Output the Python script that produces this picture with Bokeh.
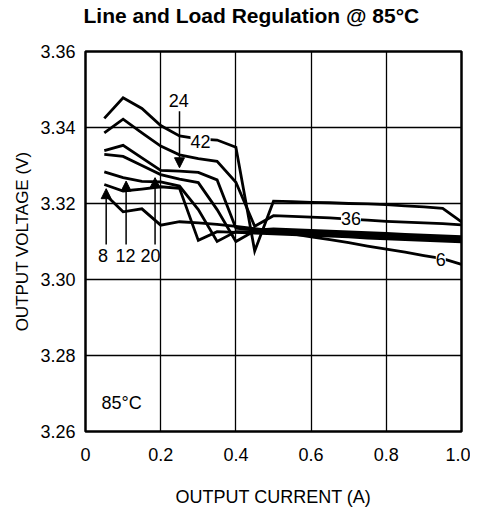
from bokeh.plotting import figure
from bokeh.models import FixedTicker, Label, Arrow, NormalHead, PrintfTickFormatter, Title
from bokeh.embed import file_html
from bokeh.resources import INLINE

# ---- data ----
current = [0.05, 0.10, 0.15, 0.20, 0.25, 0.30, 0.35, 0.40, 0.45, 0.50,
           0.55, 0.60, 0.65, 0.70, 0.75, 0.80, 0.85, 0.90, 0.95, 1.00]

v42 = [3.3424, 3.3478, 3.3450, 3.3405, 3.3378, 3.3370, 3.3367, 3.3348, 3.3075, 3.3206,
       3.3205, 3.3203, 3.3202, 3.3200, 3.3199, 3.3197, 3.3194, 3.3191, 3.3187, 3.3152]
v36 = [3.3386, 3.3422, 3.3386, 3.3351, 3.3328, 3.3318, 3.3311, 3.3256, 3.3140, 3.3168,
       3.3166, 3.3164, 3.3162, 3.3159, 3.3156, 3.3153, 3.3151, 3.3149, 3.3147, 3.3144]
v24 = [3.3339, 3.3353, 3.3320, 3.3287, 3.3285, 3.3282, 3.3262, 3.3135, 3.3130, 3.3133,
       3.3131, 3.3129, 3.3127, 3.3125, 3.3123, 3.3121, 3.3119, 3.3117, 3.3115, 3.3113]
v20 = [3.3329, 3.3324, 3.3300, 3.3276, 3.3264, 3.3255, 3.3184, 3.3100, 3.3128, 3.3129,
       3.3127, 3.3125, 3.3123, 3.3120, 3.3118, 3.3116, 3.3114, 3.3112, 3.3110, 3.3108]
v12 = [3.3283, 3.3268, 3.3258, 3.3257, 3.3246, 3.3184, 3.3100, 3.3126, 3.3125, 3.3124,
       3.3122, 3.3120, 3.3118, 3.3116, 3.3113, 3.3111, 3.3109, 3.3107, 3.3105, 3.3103]
v8 = [3.3250, 3.3233, 3.3238, 3.3244, 3.3240, 3.3103, 3.3126, 3.3124, 3.3122, 3.3120,
      3.3118, 3.3116, 3.3114, 3.3112, 3.3109, 3.3107, 3.3105, 3.3103, 3.3101, 3.3099]
v6 = [3.3226, 3.3178, 3.3186, 3.3143, 3.3152, 3.3149, 3.3145, 3.3140, 3.3134, 3.3128,
      3.3120, 3.3112, 3.3105, 3.3097, 3.3088, 3.3080, 3.3072, 3.3063, 3.3055, 3.3040]

series = [v42, v36, v24, v20, v12, v8, v6]

x_ticks = [0, 0.2, 0.4, 0.6, 0.8, 1.0]
x_tick_labels = ["0", "0.2", "0.4", "0.6", "0.8", "1.0"]
y_ticks = [3.26, 3.28, 3.30, 3.32, 3.34, 3.36]

title_text = "Line and Load Regulation @ 85°C"
x_title = "OUTPUT CURRENT (A)"
y_title = "OUTPUT VOLTAGE (V)"
temp_text = "85°C"

FONT = "Liberation Sans"

p = figure(frame_width=376, frame_height=380, x_range=(0, 1), y_range=(3.26, 3.36),
           output_backend="svg", toolbar_location=None,
           min_border_left=85, min_border_right=9,
           min_border_top=51, min_border_bottom=72)
p.title = None

for ys in series:
    p.line(current, ys, line_color="black", line_width=2.8, line_join="miter")

# axes / grid
p.xaxis.ticker = FixedTicker(ticks=x_ticks)
p.xgrid.ticker = FixedTicker(ticks=x_ticks)
p.xaxis.major_label_overrides = dict(zip(x_ticks, x_tick_labels))
p.yaxis.ticker = FixedTicker(ticks=y_ticks)
p.ygrid.ticker = FixedTicker(ticks=y_ticks)
p.yaxis.formatter = PrintfTickFormatter(format="%.2f")

p.grid.grid_line_color = "black"
p.grid.grid_line_width = 1.3
p.grid.grid_line_alpha = 1.0
p.outline_line_color = "black"
p.outline_line_width = 2.5
p.outline_line_alpha = 1.0

p.axis.axis_line_color = None
p.axis.major_tick_line_color = None
p.axis.minor_tick_line_color = None
p.axis.major_label_text_font = FONT
p.axis.major_label_text_font_size = "18px"
p.axis.major_label_text_color = "black"
p.xaxis.major_label_standoff = 10
p.yaxis.major_label_standoff = 4

p.xaxis.axis_label = x_title
p.yaxis.axis_label = y_title
p.axis.axis_label_text_font = FONT
p.xaxis.axis_label_text_font_size = "18px"
p.yaxis.axis_label_text_font_size = "17px"
p.axis.axis_label_text_font_style = "normal"
p.axis.axis_label_text_color = "black"
p.xaxis.axis_label_standoff = 23
p.yaxis.axis_label_standoff = 5

p.background_fill_color = "white"
p.border_fill_color = "white"

# title: spacer next to the frame, real title on top of it
spacer = Title(text=" ", text_font_size="1px", standoff=20)
main_title = Title(text=title_text, align="left", offset=-2, vertical_align="top",
                   standoff=0, text_font=FONT, text_font_size="21px",
                   text_font_style="bold", text_color="black")
p.add_layout(spacer, "above")
p.add_layout(main_title, "above")

# in-plot labels
def lab(x, y, t, bg=None):
    kw = dict(x=x, y=y, text=t, text_align="center", text_baseline="middle",
              text_font=FONT, text_font_size="18px", text_color="black")
    if bg:
        kw["background_fill_color"] = bg
    p.add_layout(Label(**kw))

lab(0.306, 3.3364, "42", "white")
lab(0.706, 3.3161, "36", "white")
lab(0.945, 3.3053, "6", "white")
lab(0.248, 3.3470, "24")
lab(0.0466, 3.3064, "8")
lab(0.1065, 3.3064, "12")
lab(0.173, 3.3064, "20")
lab(0.096, 3.2675, temp_text)

def arrow(x, y0, y1):
    p.add_layout(Arrow(end=NormalHead(size=10, fill_color="black", line_color="black", line_width=1),
                       x_start=x, y_start=y0, x_end=x, y_end=y1,
                       line_color="black", line_width=1.5))

arrow(0.055, 3.3092, 3.3239)
arrow(0.108, 3.3092, 3.3259)
arrow(0.185, 3.3092, 3.3268)
arrow(0.250, 3.3443, 3.3294)

open("out.html", "w").write(file_html(p, INLINE))
